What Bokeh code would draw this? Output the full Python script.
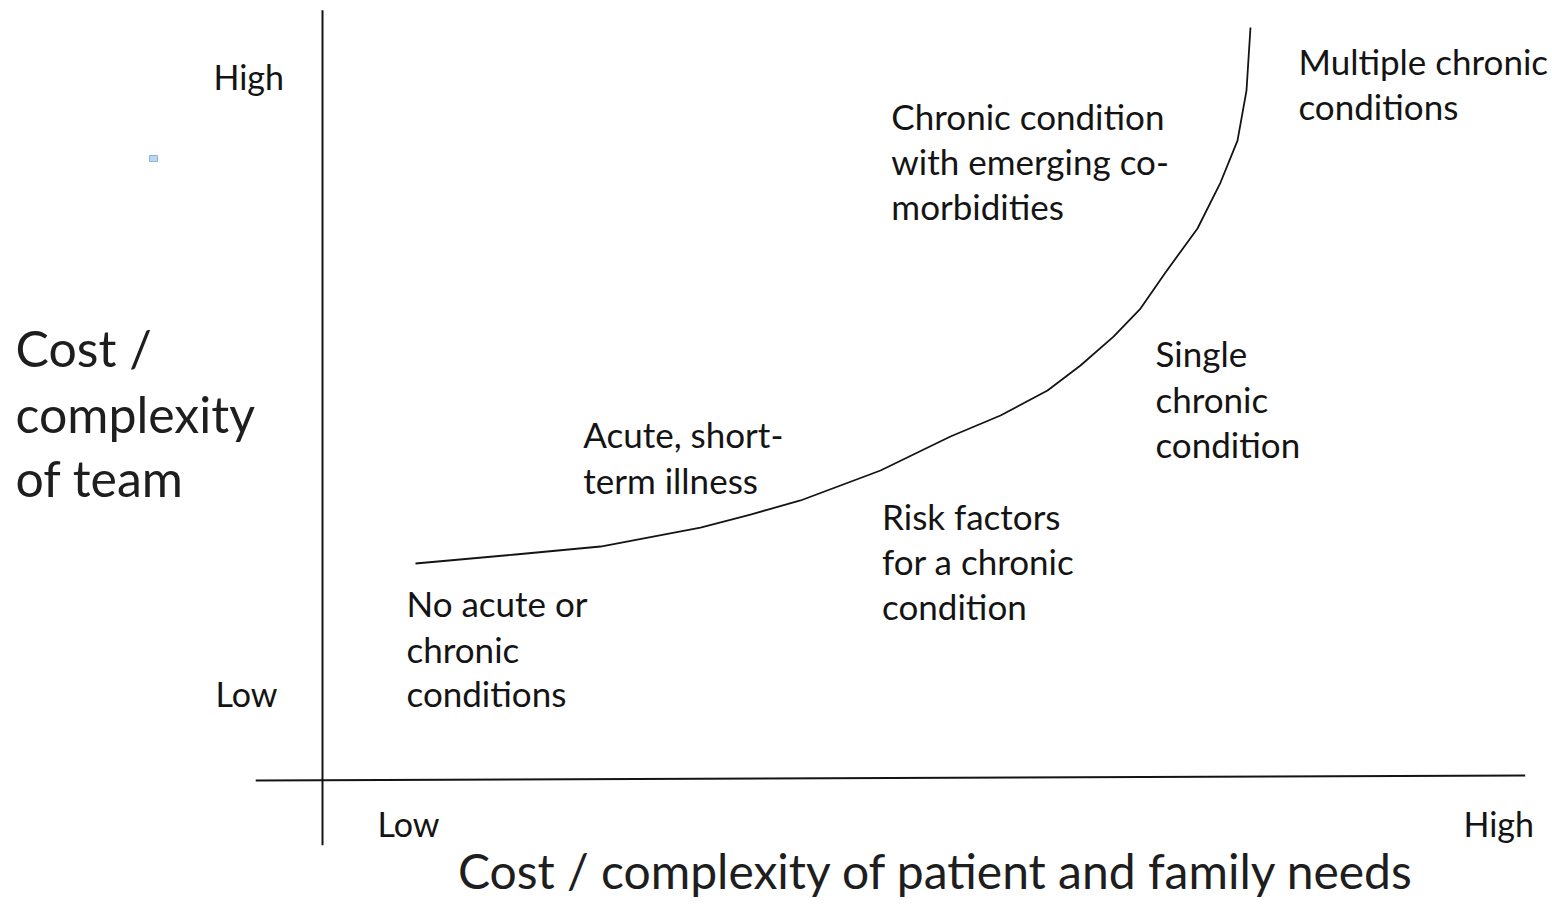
from bokeh.plotting import figure
from bokeh.models import Range1d
from bokeh.core.properties import value
from bokeh.embed import file_html
from bokeh.resources import INLINE

# ---- data (abstract 0..100 units; origin where the two axes cross) ----
curve_x = [10.02, 20.80, 29.96, 40.73, 46.12, 51.51, 60.13, 67.67, 73.06, 78.13,
           81.68, 85.24, 88.15, 90.84, 94.29, 96.77, 98.60, 99.57, 100.0]
curve_y = [28.63, 29.83, 30.89, 33.42, 35.15, 37.02, 41.01, 45.54, 48.34, 51.66,
           54.99, 58.85, 62.58, 67.38, 73.24, 79.36, 84.95, 91.61, 100.0]

y_ticks = ["High", "Low"]
x_ticks = ["Low", "High"]
y_title = ["Cost /", "complexity", "of team"]
x_title = "Cost / complexity of patient and family needs"

cat_multiple = ["Multiple chronic", "conditions"]
cat_comorb = ["Chronic condition", "with emerging co-", "morbidities"]
cat_single = ["Single", "chronic", "condition"]
cat_acute = ["Acute, short-", "term illness"]
cat_risk = ["Risk factors", "for a chronic", "condition"]
cat_none = ["No acute or", "chronic", "conditions"]

FONT = "Lato"
INK = "#141414"

p = figure(width=1550, height=904, output_backend="svg", toolbar_location=None,
           x_range=Range1d(-34.70, 132.33), y_range=Range1d(-16.78, 103.60),
           min_border=0, background_fill_color="white", border_fill_color="white")
p.axis.visible = False
p.grid.visible = False
p.outline_line_color = None

# axes drawn as lines
p.line([0, 0], [102.3, -8.9], line_color=INK, line_width=2)
p.line([-7.2, 129.6], [-0.27, 0.4], line_color=INK, line_width=2)

# curve
p.line(curve_x, curve_y, line_color=INK, line_width=1.8, line_join="round")

# small blue marker
p.rect(x=[-18.21], y=[82.56], width=0.86, height=0.8, fill_color="#bcd6ee",
       line_color="#8ab6dd", line_width=1)

def lines(texts, x, ys, size, align="left", color=INK):
    p.text(x=[x] * len(texts), y=ys, text=texts, text_font=value(FONT),
           text_font_size=size, text_align=align, text_baseline="middle",
           text_color=color)

# tick-like labels
lines([y_ticks[0]], -11.75, [93.5], "34px")
lines([y_ticks[1]], -11.53, [11.3], "34px")
lines([x_ticks[0]], 5.93, [-6.0], "34px")
lines([x_ticks[1]], 122.95, [-6.0], "34px")

# axis titles
lines(y_title, -33.08, [57.26, 48.6, 39.95], "50px", color="#1e1e1e")
lines([x_title], 66.16, [-12.25], "48px", align="center", color="#1e1e1e")

# category labels
lines(cat_comorb, 61.3, [88.28, 82.29, 76.3], "35px")
lines(cat_multiple, 105.17, [95.6, 89.6], "35px")
lines(cat_single, 89.76, [56.7, 50.6, 44.6], "35px")
lines(cat_acute, 28.1, [45.9, 39.8], "35px")
lines(cat_risk, 60.3, [35.0, 29.0, 23.0], "35px")
lines(cat_none, 9.05, [23.4, 17.3, 11.45], "35px")

open("out.html", "w").write(file_html(p, INLINE))
